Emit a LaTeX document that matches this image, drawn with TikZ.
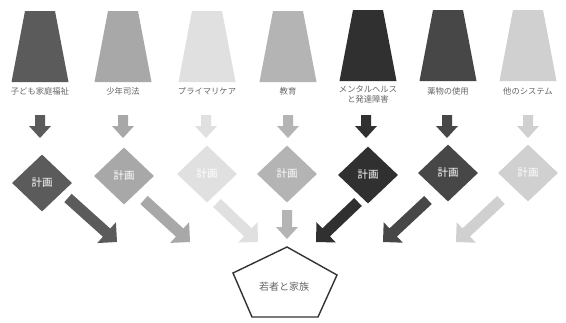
\documentclass[tikz,border=0pt]{standalone}
\usepackage{fontspec}
\newfontfamily\jpfont{Noto Sans CJK JP}
\usetikzlibrary{shapes.geometric,calc}
\definecolor{cA}{HTML}{5B5B5B}
\definecolor{cB}{HTML}{A8A8A8}
\definecolor{cC}{HTML}{E0E0E0}
\definecolor{cD}{HTML}{B4B4B4}
\definecolor{cE}{HTML}{303030}
\definecolor{cF}{HTML}{474747}
\definecolor{cG}{HTML}{D0D0D0}
\definecolor{lbl}{HTML}{666666}
\definecolor{pent}{HTML}{333333}
% block arrow: colour, start, tip, shaft half width, head half width, head length
\newcommand{\blockarr}[6]{%
  \coordinate (bhx) at ($(#3)!#6!(#2)$);
  \fill[#1] ($(#2)!#4!90:(#3)$) -- ($(bhx)!#4!90:(#3)$) -- ($(bhx)!#5!90:(#3)$)
    -- (#3) -- ($(bhx)!#5!-90:(#3)$) -- ($(bhx)!#4!-90:(#3)$) -- ($(#2)!#4!-90:(#3)$) -- cycle;}
% trapezoid system block: colour, centre name
\newcommand{\sysblock}[2]{%
  \fill[#1] ($(#2)+(-15,-35.5)$) -- ($(#2)+(15,-35.5)$) -- ($(#2)+(28.5,35.5)$) -- ($(#2)+(-28.5,35.5)$) -- cycle;}
\begin{document}
\begin{tikzpicture}[x=1pt,y=-1pt,
  lab/.style={font=\jpfont\fontsize{8.3}{10.5}\selectfont, text=lbl, align=center, inner sep=0pt},
  plan/.style={diamond, minimum width=60pt, minimum height=57pt, inner sep=0pt,
    font=\jpfont\fontsize{10.5}{12}\selectfont, text=white},
  ptext/.style={font=\jpfont\fontsize{10}{12}\selectfont, text=lbl, inner sep=0pt}]
\useasboundingbox (0,0) rectangle (566,322);
\fill[white] (0,0) rectangle (566,322);
% trapezoids
\coordinate (t1) at (40,46.5);
\coordinate (t2) at (123,46.5);
\coordinate (t3) at (207,46.5);
\coordinate (t4) at (288,46.5);
\coordinate (t5) at (368,45.5);
\coordinate (t6) at (448,45.5);
\coordinate (t7) at (528,45.5);
\sysblock{cA}{t1}
\sysblock{cB}{t2}
\sysblock{cC}{t3}
\sysblock{cD}{t4}
\sysblock{cE}{t5}
\sysblock{cF}{t6}
\sysblock{cG}{t7}
% labels
\node[lab] (l1) at (40,91) {子ども家庭福祉};
\node[lab] (l2) at (123,91) {少年司法};
\node[lab] (l3) at (207,91) {プライマリケア};
\node[lab] (l4) at (288,91) {教育};
\node[lab, anchor=north] (l5) at (368,85.5) {メンタルヘルス\\と発達障害};
\node[lab] (l6) at (448,91) {薬物の使用};
\node[lab] (l7) at (528,91) {他のシステム};
% plan diamonds
\node[plan, fill=cA] (d1) at (42,183) {計画};
\node[plan, fill=cB] (d2) at (124,176) {計画};
\node[plan, fill=cC] (d3) at (207,174) {計画};
\node[plan, fill=cD] (d4) at (287,174) {計画};
\node[plan, fill=cE] (d5) at (368,175) {計画};
\node[plan, fill=cF] (d6) at (448,173) {計画};
\node[plan, fill=cG] (d7) at (528,173) {計画};
% pentagon
\coordinate (p1) at (287,247);
\coordinate (p2) at (337,275);
\coordinate (p3) at (318,317);
\coordinate (p4) at (252,317);
\coordinate (p5) at (233,273);
\draw[pent, line width=1.4pt, line join=miter] (p1) -- (p2) -- (p3) -- (p4) -- (p5) -- cycle;
\node[ptext] (p) at (284,287) {若者と家族};
% down arrows (system -> plan)
\foreach \x/\c/\n in {40/cA/1,123/cB/2,206/cC/3,288/cD/4,366/cE/5,447/cF/6,528/cG/7}{
  \coordinate (s\n) at (\x,115);
  \coordinate (e\n) at (\x,138);
  \blockarr{\c}{s\n}{e\n}{5pt}{11pt}{12pt}
}
% plan -> young people and family
\coordinate (a1s) at (68,198);  \coordinate (a1t) at (117,242);
\coordinate (a2s) at (144,200); \coordinate (a2t) at (190,242);
\coordinate (a3s) at (217,203); \coordinate (a3t) at (258,242);
\coordinate (a4s) at (287,210); \coordinate (a4t) at (287,239);
\coordinate (a5s) at (358,202); \coordinate (a5t) at (316,242);
\coordinate (a6s) at (428,200); \coordinate (a6t) at (383,242);
\coordinate (a7s) at (501,200); \coordinate (a7t) at (456,242);
\blockarr{cA}{a1s}{a1t}{5.5pt}{14pt}{14pt}
\blockarr{cB}{a2s}{a2t}{5.5pt}{14pt}{14pt}
\blockarr{cC}{a3s}{a3t}{5.5pt}{14pt}{14pt}
\blockarr{cD}{a4s}{a4t}{5pt}{11pt}{12pt}
\blockarr{cE}{a5s}{a5t}{5.5pt}{14pt}{14pt}
\blockarr{cF}{a6s}{a6t}{5.5pt}{14pt}{14pt}
\blockarr{cG}{a7s}{a7t}{5.5pt}{14pt}{14pt}
\end{tikzpicture}
\end{document}
